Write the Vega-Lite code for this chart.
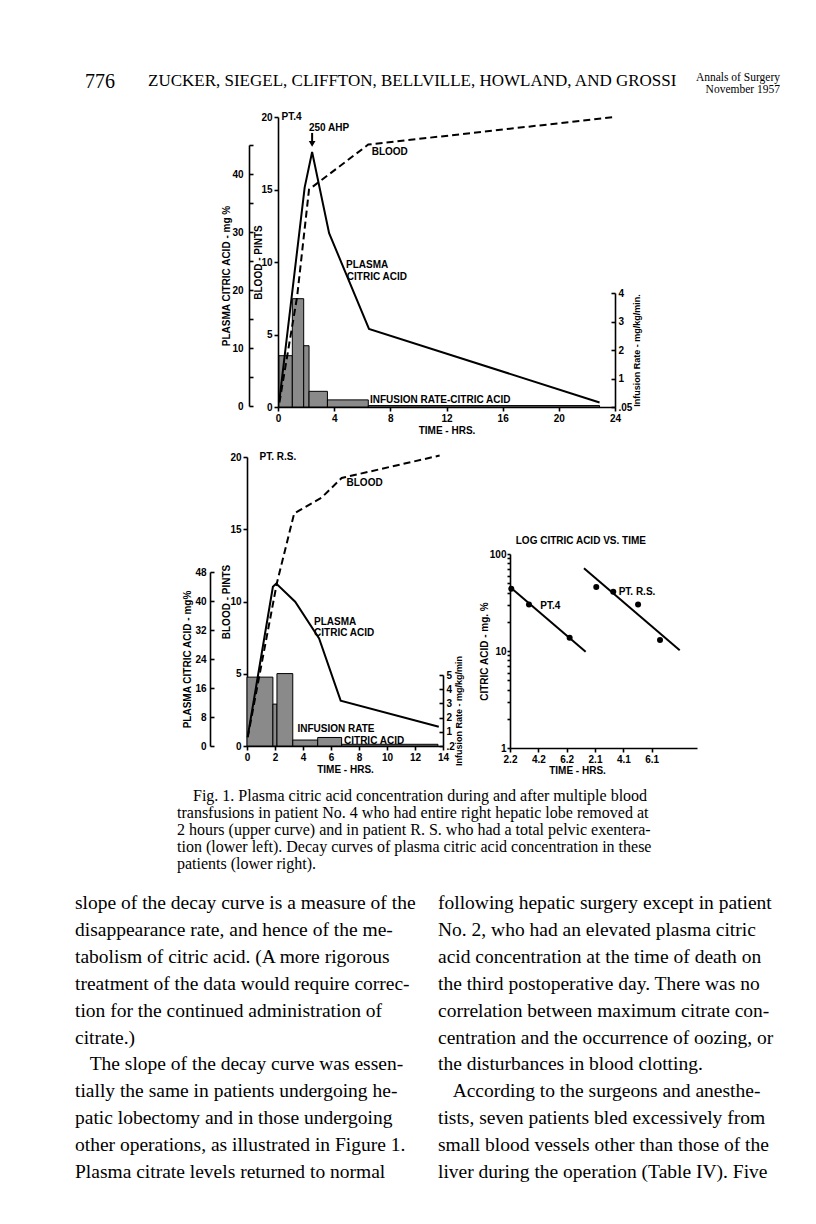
{
  "$schema": "https://vega.github.io/schema/vega-lite/v6.json",
  "width": 816,
  "height": 1224,
  "padding": 0,
  "autosize": {"type": "none"},
  "background": "white",
  "config": {
    "view": {"stroke": null},
    "axis": {
      "grid": false,
      "domainColor": "black",
      "domainWidth": 1.6,
      "tickColor": "black",
      "tickWidth": 1.6,
      "tickSize": 4,
      "labelFont": "Liberation Sans Narrow, Liberation Sans, sans-serif",
      "labelFontSize": 10,
      "labelFontWeight": "bold",
      "labelColor": "black",
      "labelPadding": 2,
      "labelOverlap": false,
      "labelFlush": false,
      "titleFont": "Liberation Sans Narrow, Liberation Sans, sans-serif",
      "titleFontSize": 10,
      "titleFontWeight": "bold",
      "titleColor": "black",
      "titlePadding": 3
    }
  },
  "datasets": {
    "pt4_plasma": [
      {"hr": 0.1, "mg": 1.0}, {"hr": 1.9, "mg": 37.7}, {"hr": 2.43, "mg": 43.8},
      {"hr": 3.64, "mg": 29.8}, {"hr": 6.48, "mg": 13.3}, {"hr": 22.9, "mg": 0.6}
    ],
    "pt4_blood": [
      {"hr": 0.1, "pints": 0.3}, {"hr": 1.36, "pints": 7.6}, {"hr": 2.21, "pints": 15.0},
      {"hr": 6.43, "pints": 18.1}, {"hr": 24.0, "pints": 20.0}
    ],
    "pt4_infusion": [
      {"start": 0.07, "end": 1.02, "rate": 1.8},
      {"start": 1.02, "end": 1.83, "rate": 3.8},
      {"start": 1.83, "end": 2.21, "rate": 2.15},
      {"start": 2.21, "end": 3.52, "rate": 0.55},
      {"start": 3.52, "end": 6.43, "rate": 0.25},
      {"start": 6.43, "end": 22.9, "rate": 0.05}
    ],
    "pt4_labels": [
      {"hr": 0.25, "pints": 20.0, "label": "PT.4"},
      {"hr": 2.2, "pints": 19.25, "label": "250 AHP"},
      {"hr": 6.67, "pints": 17.6, "label": "BLOOD"},
      {"hr": 4.84, "pints": 9.8, "label": "PLASMA"},
      {"hr": 4.9, "pints": 9.0, "label": "CITRIC ACID"},
      {"hr": 6.55, "pints": 0.5, "label": "INFUSION RATE-CITRIC ACID"}
    ],
    "pt4_arrow": [{"hr": 2.43, "from": 18.9, "to": 18.3, "tip": 18.15}],
    "rs_plasma": [
      {"hr": 0.05, "mg": 2.6}, {"hr": 1.85, "mg": 43.9}, {"hr": 2.09, "mg": 44.8},
      {"hr": 3.44, "mg": 39.8}, {"hr": 5.15, "mg": 29.7}, {"hr": 6.69, "mg": 12.5},
      {"hr": 13.7, "mg": 5.3}
    ],
    "rs_blood": [
      {"hr": 0.05, "pints": 0.6}, {"hr": 2.14, "pints": 11.3}, {"hr": 3.37, "pints": 16.1},
      {"hr": 5.34, "pints": 17.2}, {"hr": 6.76, "pints": 18.55}, {"hr": 13.76, "pints": 20.1}
    ],
    "rs_infusion": [
      {"start": 0.0, "end": 1.85, "rate": 4.85},
      {"start": 1.85, "end": 2.14, "rate": 2.95},
      {"start": 2.14, "end": 3.27, "rate": 5.1},
      {"start": 3.27, "end": 5.05, "rate": 0.42},
      {"start": 5.05, "end": 6.76, "rate": 0.6},
      {"start": 6.76, "end": 13.64, "rate": 0.12}
    ],
    "rs_labels": [
      {"hr": 0.9, "pints": 20.0, "label": "PT. R.S."},
      {"hr": 7.11, "pints": 18.2, "label": "BLOOD"},
      {"hr": 4.79, "pints": 8.55, "label": "PLASMA"},
      {"hr": 4.79, "pints": 7.8, "label": "CITRIC ACID"},
      {"hr": 3.6, "pints": 1.16, "label": "INFUSION RATE"},
      {"hr": 6.93, "pints": 0.37, "label": "CITRIC ACID"}
    ],
    "log_points": [
      {"t": 0.09, "mg": 43.8, "patient": "PT.4"},
      {"t": 1.34, "mg": 30.1, "patient": "PT.4"},
      {"t": 4.21, "mg": 13.7, "patient": "PT.4"},
      {"t": 6.09, "mg": 45.6, "patient": "PT. R.S."},
      {"t": 7.29, "mg": 40.8, "patient": "PT. R.S."},
      {"t": 9.04, "mg": 30.1, "patient": "PT. R.S."},
      {"t": 10.59, "mg": 13.0, "patient": "PT. R.S."}
    ],
    "log_fit": [
      {"t": 0.0, "mg": 45.6, "patient": "PT.4"},
      {"t": 5.34, "mg": 9.85, "patient": "PT.4"},
      {"t": 5.22, "mg": 71.3, "patient": "PT. R.S."},
      {"t": 11.98, "mg": 10.2, "patient": "PT. R.S."}
    ],
    "log_labels": [
      {"t": 2.0, "mg": 29.1, "label": "PT.4"},
      {"t": 7.53, "mg": 40.6, "label": "PT. R.S."}
    ],
    "log_title": [{"t": 5.0, "mg": 137, "label": "LOG CITRIC ACID VS. TIME"}],
    "header": [
      {"part": 0, "line": 0, "text": "776"},
      {"part": 1, "line": 0, "text": "ZUCKER, SIEGEL, CLIFFTON, BELLVILLE, HOWLAND, AND GROSSI"},
      {"part": 2, "line": 0, "text": "Annals of Surgery"},
      {"part": 2, "line": 1, "text": "November 1957"}
    ],
    "caption": [
      {"col": 0, "line": 0, "text": "\u200b\u00a0\u00a0\u00a0\u00a0Fig. 1. Plasma citric acid concentration during and after multiple blood"},
      {"col": 0, "line": 1, "text": "transfusions in patient No. 4 who had entire right hepatic lobe removed at"},
      {"col": 0, "line": 2, "text": "2 hours (upper curve) and in patient R. S. who had a total pelvic exentera-"},
      {"col": 0, "line": 3, "text": "tion (lower left). Decay curves of plasma citric acid concentration in these"},
      {"col": 0, "line": 4, "text": "patients (lower right)."}
    ],
    "body": [
      {"col": 0, "line": 0, "text": "slope of the decay curve is a measure of the"},
      {"col": 0, "line": 1, "text": "disappearance rate, and hence of the me-"},
      {"col": 0, "line": 2, "text": "tabolism of citric acid. (A more rigorous"},
      {"col": 0, "line": 3, "text": "treatment of the data would require correc-"},
      {"col": 0, "line": 4, "text": "tion for the continued administration of"},
      {"col": 0, "line": 5, "text": "citrate.)"},
      {"col": 0, "line": 6, "text": "\u200b\u00a0\u00a0\u00a0The slope of the decay curve was essen-"},
      {"col": 0, "line": 7, "text": "tially the same in patients undergoing he-"},
      {"col": 0, "line": 8, "text": "patic lobectomy and in those undergoing"},
      {"col": 0, "line": 9, "text": "other operations, as illustrated in Figure 1."},
      {"col": 0, "line": 10, "text": "Plasma citrate levels returned to normal"},
      {"col": 1, "line": 0, "text": "following hepatic surgery except in patient"},
      {"col": 1, "line": 1, "text": "No. 2, who had an elevated plasma citric"},
      {"col": 1, "line": 2, "text": "acid concentration at the time of death on"},
      {"col": 1, "line": 3, "text": "the third postoperative day. There was no"},
      {"col": 1, "line": 4, "text": "correlation between maximum citrate con-"},
      {"col": 1, "line": 5, "text": "centration and the occurrence of oozing, or"},
      {"col": 1, "line": 6, "text": "the disturbances in blood clotting."},
      {"col": 1, "line": 7, "text": "\u200b\u00a0\u00a0\u00a0According to the surgeons and anesthe-"},
      {"col": 1, "line": 8, "text": "tists, seven patients bled excessively from"},
      {"col": 1, "line": 9, "text": "small blood vessels other than those of the"},
      {"col": 1, "line": 10, "text": "liver during the operation (Table IV). Five"}
    ]
  },
  "layer": [
    {
      "layer": [
        {
          "data": {"name": "pt4_infusion"},
          "mark": {"type": "rect", "fill": "#8a8a8a", "stroke": "black", "strokeWidth": 1},
          "encoding": {
            "x": {"field": "start", "type": "quantitative", "scale": {"domain": [0, 24], "range": [278, 615], "nice": false},
                  "axis": {"orient": "bottom", "offset": -817, "values": [0, 4, 8, 12, 16, 20, 24], "title": "TIME - HRS.", "titlePadding": 2}},
            "x2": {"field": "end"},
            "y": {"field": "rate", "type": "quantitative", "scale": {"domain": [0, 4], "range": [407, 293], "nice": false},
                  "axis": {"orient": "right", "offset": -201, "values": [0, 1, 2, 3, 4], "labelExpr": "datum.value == 0 ? '.05' : datum.label", "tickSize": -4, "labelPadding": 7, "title": "Infusion Rate - mg/kg/min.", "titleAngle": 270, "titleFontSize": 9, "titlePadding": 10}},
            "y2": {"datum": 0}
          }
        },
        {
          "data": {"name": "pt4_plasma"},
          "mark": {"type": "line", "color": "black", "strokeWidth": 2},
          "encoding": {
            "x": {"field": "hr", "type": "quantitative", "scale": {"domain": [0, 24], "range": [278, 615], "nice": false}, "axis": null},
            "y": {"field": "mg", "type": "quantitative", "scale": {"domain": [0, 45], "range": [406, 145], "nice": false},
                  "axis": {"orient": "left", "offset": -249, "values": [0, 5, 10, 15, 20, 25, 30, 35, 40, 45], "labelExpr": "datum.value % 10 == 0 ? datum.label : ''", "tickSize": -4, "labelPadding": 10, "title": "PLASMA CITRIC ACID - mg %", "titlePadding": 0}}
          }
        },
        {
          "data": {"name": "pt4_blood"},
          "mark": {"type": "line", "color": "black", "strokeWidth": 2, "strokeDash": [7, 4]},
          "encoding": {
            "x": {"field": "hr", "type": "quantitative", "scale": {"domain": [0, 24], "range": [278, 615], "nice": false}, "axis": null},
            "y": {"field": "pints", "type": "quantitative", "scale": {"domain": [0, 20], "range": [407, 117], "nice": false},
                  "axis": {"orient": "left", "offset": -278, "values": [0, 5, 10, 15, 20], "title": "BLOOD - PINTS", "titlePadding": -3}}
          }
        },
        {
          "data": {"name": "pt4_labels"},
          "mark": {"type": "text", "align": "left", "baseline": "middle", "font": "Liberation Sans Narrow, Liberation Sans, sans-serif", "fontWeight": "bold", "fontSize": 10, "color": "black"},
          "encoding": {
            "x": {"field": "hr", "type": "quantitative", "scale": {"domain": [0, 24], "range": [278, 615], "nice": false}, "axis": null},
            "y": {"field": "pints", "type": "quantitative", "scale": {"domain": [0, 20], "range": [407, 117], "nice": false}, "axis": null},
            "text": {"field": "label"}
          }
        },
        {
          "data": {"name": "pt4_arrow"},
          "mark": {"type": "rule", "color": "black", "strokeWidth": 2},
          "encoding": {
            "x": {"field": "hr", "type": "quantitative", "scale": {"domain": [0, 24], "range": [278, 615], "nice": false}, "axis": null},
            "y": {"field": "from", "type": "quantitative", "scale": {"domain": [0, 20], "range": [407, 117], "nice": false}, "axis": null},
            "y2": {"field": "to"}
          }
        },
        {
          "data": {"name": "pt4_arrow"},
          "mark": {"type": "point", "shape": "triangle-down", "filled": true, "color": "black", "size": 45, "opacity": 1},
          "encoding": {
            "x": {"field": "hr", "type": "quantitative", "scale": {"domain": [0, 24], "range": [278, 615], "nice": false}, "axis": null},
            "y": {"field": "tip", "type": "quantitative", "scale": {"domain": [0, 20], "range": [407, 117], "nice": false}, "axis": null}
          }
        }
      ],
      "resolve": {"scale": {"y": "independent"}, "axis": {"x": "independent", "y": "independent"}}
    },
    {
      "layer": [
        {
          "data": {"name": "rs_infusion"},
          "mark": {"type": "rect", "fill": "#8a8a8a", "stroke": "black", "strokeWidth": 1},
          "encoding": {
            "x": {"field": "start", "type": "quantitative", "scale": {"domain": [0, 14], "range": [247, 443], "nice": false},
                  "axis": {"orient": "bottom", "offset": -478, "values": [0, 2, 4, 6, 8, 10, 12, 14], "title": "TIME - HRS.", "titlePadding": 2}},
            "x2": {"field": "end"},
            "y": {"field": "rate", "type": "quantitative", "scale": {"domain": [0, 5], "range": [746, 675], "nice": false},
                  "axis": {"orient": "right", "offset": -373, "values": [0, 1, 2, 3, 4, 5], "labelExpr": "datum.value == 0 ? '.2' : datum.label", "tickSize": -4, "labelPadding": 7, "title": "Infusion Rate - mg/kg/min", "titleAngle": 270, "titleFontSize": 9, "titlePadding": 9}},
            "y2": {"datum": 0}
          }
        },
        {
          "data": {"name": "rs_plasma"},
          "mark": {"type": "line", "color": "black", "strokeWidth": 2},
          "encoding": {
            "x": {"field": "hr", "type": "quantitative", "scale": {"domain": [0, 14], "range": [247, 443], "nice": false}, "axis": null},
            "y": {"field": "mg", "type": "quantitative", "scale": {"domain": [0, 48], "range": [746, 572], "nice": false},
                  "axis": {"orient": "left", "offset": -210, "values": [0, 8, 16, 24, 32, 40, 48], "tickSize": -4, "labelPadding": 8, "title": "PLASMA CITRIC ACID - mg%", "titlePadding": 2}}
          }
        },
        {
          "data": {"name": "rs_blood"},
          "mark": {"type": "line", "color": "black", "strokeWidth": 2, "strokeDash": [7, 4]},
          "encoding": {
            "x": {"field": "hr", "type": "quantitative", "scale": {"domain": [0, 14], "range": [247, 443], "nice": false}, "axis": null},
            "y": {"field": "pints", "type": "quantitative", "scale": {"domain": [0, 20], "range": [746, 457], "nice": false},
                  "axis": {"orient": "left", "offset": -247, "values": [0, 5, 10, 15, 20], "title": "BLOOD - PINTS", "titlePadding": -2}}
          }
        },
        {
          "data": {"name": "rs_labels"},
          "mark": {"type": "text", "align": "left", "baseline": "middle", "font": "Liberation Sans Narrow, Liberation Sans, sans-serif", "fontWeight": "bold", "fontSize": 10, "color": "black"},
          "encoding": {
            "x": {"field": "hr", "type": "quantitative", "scale": {"domain": [0, 14], "range": [247, 443], "nice": false}, "axis": null},
            "y": {"field": "pints", "type": "quantitative", "scale": {"domain": [0, 20], "range": [746, 457], "nice": false}, "axis": null},
            "text": {"field": "label"}
          }
        }
      ],
      "resolve": {"scale": {"y": "independent"}, "axis": {"x": "independent", "y": "independent"}}
    },
    {
      "layer": [
        {
          "data": {"name": "log_fit"},
          "mark": {"type": "line", "color": "black", "strokeWidth": 2},
          "encoding": {
            "x": {"field": "t", "type": "quantitative", "scale": {"domain": [0, 13.2], "range": [510, 697], "nice": false},
                  "axis": {"orient": "bottom", "offset": -476, "values": [0, 2, 4, 6, 8, 10], "labelExpr": "datum.value == 0 ? '2.2' : datum.value == 2 ? '4.2' : datum.value == 4 ? '6.2' : datum.value == 6 ? '2.1' : datum.value == 8 ? '4.1' : '6.1'", "title": "TIME - HRS.", "titleX": 577, "titlePadding": 1}},
            "y": {"field": "mg", "type": "quantitative", "scale": {"type": "log", "domain": [1, 100], "range": [748, 554], "nice": false},
                  "axis": {"orient": "left", "offset": -510, "values": [1, 2, 3, 4, 5, 6, 7, 8, 9, 10, 20, 30, 40, 50, 60, 70, 80, 90, 100], "labelExpr": "datum.value == 1 ? '1' : datum.value == 10 ? '10' : datum.value == 100 ? '100' : ''", "tickSize": 3, "labelPadding": 1, "title": "CITRIC ACID - mg. %", "titlePadding": 0}},
            "detail": {"field": "patient"}
          }
        },
        {
          "data": {"name": "log_points"},
          "mark": {"type": "point", "filled": true, "color": "black", "size": 36, "opacity": 1},
          "encoding": {
            "x": {"field": "t", "type": "quantitative", "scale": {"domain": [0, 13.2], "range": [510, 697], "nice": false}, "axis": null},
            "y": {"field": "mg", "type": "quantitative", "scale": {"type": "log", "domain": [1, 100], "range": [748, 554], "nice": false}, "axis": null}
          }
        },
        {
          "data": {"name": "log_labels"},
          "mark": {"type": "text", "align": "left", "baseline": "middle", "dx": 2, "font": "Liberation Sans Narrow, Liberation Sans, sans-serif", "fontWeight": "bold", "fontSize": 10, "color": "black"},
          "encoding": {
            "x": {"field": "t", "type": "quantitative", "scale": {"domain": [0, 13.2], "range": [510, 697], "nice": false}, "axis": null},
            "y": {"field": "mg", "type": "quantitative", "scale": {"type": "log", "domain": [1, 100], "range": [748, 554], "nice": false}, "axis": null},
            "text": {"field": "label"}
          }
        },
        {
          "data": {"name": "log_title"},
          "mark": {"type": "text", "align": "center", "baseline": "middle", "font": "Liberation Sans Narrow, Liberation Sans, sans-serif", "fontWeight": "bold", "fontSize": 10, "color": "black"},
          "encoding": {
            "x": {"field": "t", "type": "quantitative", "scale": {"domain": [0, 13.2], "range": [510, 697], "nice": false}, "axis": null},
            "y": {"field": "mg", "type": "quantitative", "scale": {"type": "log", "domain": [1, 100], "range": [748, 554], "nice": false}, "axis": null},
            "text": {"field": "label"}
          }
        }
      ],
      "resolve": {"axis": {"x": "independent", "y": "independent"}}
    },
    {
      "data": {"name": "header"},
      "transform": [{"filter": "datum.part == 0"}],
      "mark": {"type": "text", "align": "left", "baseline": "middle", "dy": 4, "font": "Liberation Serif, DejaVu Serif, serif", "fontSize": 20, "color": "black"},
      "encoding": {
        "x": {"field": "part", "type": "quantitative", "scale": {"domain": [0, 1, 2], "range": [85, 148, 780], "nice": false}, "axis": null},
        "y": {"field": "line", "type": "quantitative", "scale": {"domain": [0, 1], "range": [78, 90], "nice": false}, "axis": null},
        "text": {"field": "text"}
      }
    },
    {
      "data": {"name": "header"},
      "transform": [{"filter": "datum.part == 1"}],
      "mark": {"type": "text", "align": "left", "baseline": "middle", "dy": 3, "font": "Liberation Serif, DejaVu Serif, serif", "fontSize": 17, "color": "black"},
      "encoding": {
        "x": {"field": "part", "type": "quantitative", "scale": {"domain": [0, 1, 2], "range": [85, 148, 780], "nice": false}, "axis": null},
        "y": {"field": "line", "type": "quantitative", "scale": {"domain": [0, 1], "range": [78, 90], "nice": false}, "axis": null},
        "text": {"field": "text"}
      }
    },
    {
      "data": {"name": "header"},
      "transform": [{"filter": "datum.part == 2"}],
      "mark": {"type": "text", "align": "right", "baseline": "middle", "font": "Liberation Serif, DejaVu Serif, serif", "fontSize": 11.5, "color": "black"},
      "encoding": {
        "x": {"field": "part", "type": "quantitative", "scale": {"domain": [0, 1, 2], "range": [85, 148, 780], "nice": false}, "axis": null},
        "y": {"field": "line", "type": "quantitative", "scale": {"domain": [0, 1], "range": [78, 90], "nice": false}, "axis": null},
        "text": {"field": "text"}
      }
    },
    {
      "data": {"name": "caption"},
      "mark": {"type": "text", "align": "left", "baseline": "middle", "font": "Liberation Serif, DejaVu Serif, serif", "fontSize": 16, "color": "black"},
      "encoding": {
        "x": {"field": "col", "type": "quantitative", "scale": {"domain": [0, 1], "range": [177, 681], "nice": false}, "axis": null},
        "y": {"field": "line", "type": "quantitative", "scale": {"domain": [0, 4], "range": [796, 864], "nice": false}, "axis": null},
        "text": {"field": "text"}
      }
    },
    {
      "data": {"name": "body"},
      "mark": {"type": "text", "align": "left", "baseline": "middle", "font": "Liberation Serif, DejaVu Serif, serif", "fontSize": 19.5, "color": "black"},
      "encoding": {
        "x": {"field": "col", "type": "quantitative", "scale": {"domain": [0, 1], "range": [75, 438], "nice": false}, "axis": null},
        "y": {"field": "line", "type": "quantitative", "scale": {"domain": [0, 10], "range": [903, 1172], "nice": false}, "axis": null},
        "text": {"field": "text"}
      }
    }
  ],
  "resolve": {"scale": {"x": "independent", "y": "independent"}, "axis": {"x": "independent", "y": "independent"}}
}
